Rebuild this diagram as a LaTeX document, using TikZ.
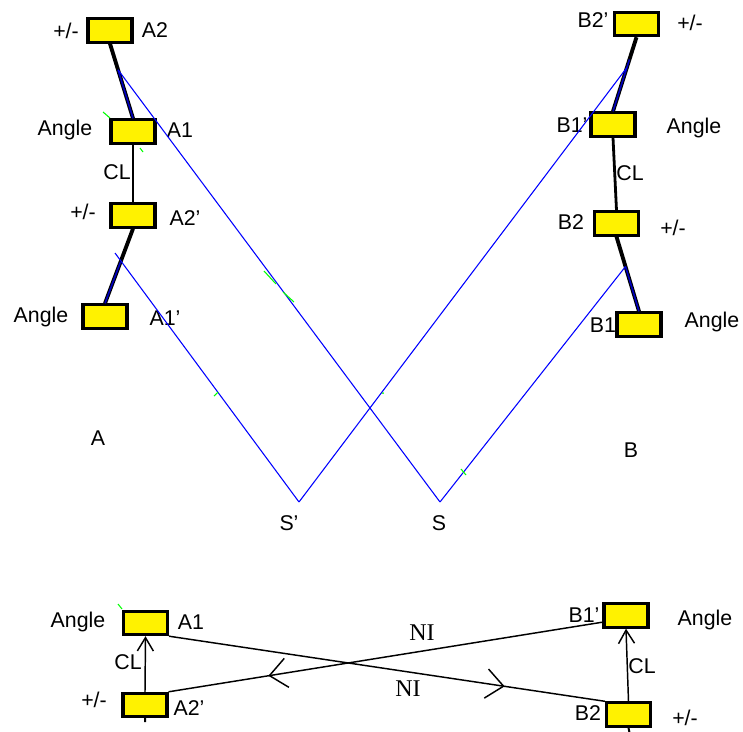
\documentclass[tikz,border=0pt]{standalone}
\usepackage{fontspec}
\setmainfont{Liberation Sans}
\newfontfamily\nifont{Liberation Serif}
\usetikzlibrary{arrows.meta,decorations.markings,calc}
\tikzset{
  box/.style={draw,line width=2.3pt,fill=yellow,minimum width=33pt,minimum height=17.5pt,inner sep=0pt},
  lbl/.style={inner sep=0pt,font=\fontsize{16}{18}\selectfont},
  nilbl/.style={inner sep=0pt,font=\nifont\fontsize{18}{20}\selectfont},
  bar/.style={line width=2.9pt},
  cllink/.style={line width=2.1pt},
  ray/.style={blue,line width=0.8pt},
  rayover/.style={blue!75!black,line width=1.2pt},
  greentick/.style={green,line width=0.8pt},
  clarrow/.style={line width=1.1pt,-{Straight Barb[length=10pt,width=12pt]}},
  niarrow/.style={line width=1.1pt,postaction={decorate},
    decoration={markings,mark=at position 0.77 with {\arrow{Straight Barb[length=13pt,width=22pt]}}}}
}
\begin{document}
\begin{tikzpicture}[x=0.75pt,y=-0.75pt]
\useasboundingbox (0,0) rectangle (743,732);

% side A
\node[box] (A2) at (110,30.5) {};
\node[box] (A1) at (133,131.5) {};
\node[box] (A2p) at (133,215.5) {};
\node[box] (A1p) at (105,316.5) {};
\draw[bar] (A2.south)--(A1.north);
\draw[cllink] (A1.south)--(A2p.north);
\draw[bar] (A2p.south)--(A1p.north);
\node[lbl] (tA2) at (155,30) {A2};
\node[lbl] (tA2pm) at (66,31) {+/-};
\node[lbl] (tA1) at (180,130) {A1};
\node[lbl] (tA1ang) at (65,130) {Angle};
\node[lbl] (tAcl) at (117,172) {CL};
\node[lbl] (tA2p) at (185,218) {A2’};
\node[lbl] (tA2ppm) at (83,212) {+/-};
\node[lbl] (tA1p) at (165,318) {A1’};
\node[lbl] (tA1pang) at (41,317) {Angle};
\node[lbl] (tA) at (98,438) {A};

% side B
\node[box] (B2p) at (636.5,24) {};
\node[box] (B1p) at (613,124.5) {};
\node[box] (B2) at (616.5,223.5) {};
\node[box] (B1) at (639,324.5) {};
\draw[bar] (B2p.south)--(B1p.north);
\draw[cllink] (B1p.south)--(B2.north);
\draw[bar] (B2.south)--(B1.north);
\node[lbl] (tB2p) at (593,20) {B2’};
\node[lbl] (tB2ppm) at (690,23) {+/-};
\node[lbl] (tB1p) at (572,125) {B1’};
\node[lbl] (tB1pang) at (694,128) {Angle};
\node[lbl] (tBcl) at (630,173) {CL};
\node[lbl] (tB2) at (571,222) {B2};
\node[lbl] (tB2pm) at (673,228) {+/-};
\node[lbl] (tB1) at (603,325) {B1};
\node[lbl] (tB1ang) at (712,322) {Angle};
\node[lbl] (tB) at (631,450) {B};

% rays through S and S'
\coordinate (s) at (440,502);
\coordinate (sp) at (299,502);
\coordinate (a2ray) at (115,253);
\node[lbl] (tS) at (439,523) {S};
\node[lbl] (tSp) at (289,523) {S’};
\draw[rayover] ($(A2.south)!0.35!(A1.north)$)--(A1.north);
\draw[rayover] ($(A2p.south)!0.45!(A1p.north)$)--(A1p.north);
\draw[rayover] ($(B2p.south)!0.3!(B1p.north)$)--(B1p.north);
\draw[rayover] ($(B2.south)!0.4!(B1.north)$)--(B1.north);
\draw[ray] ($(A2.south)!0.35!(A1.north)$)--(s);
\draw[ray] (a2ray)--(sp);
\draw[ray] (sp)--($(B2p.south)!0.41!(B1p.north)$);
\draw[ray] (s)--($(B2.south)!0.4!(B1.north)$);
\draw[greentick] (103,112)--(110,118) (140,148)--(143,152);
\draw[greentick] (264,271)--(276,284) (283,292)--(294,302);
\draw[greentick] (214,396)--(218,392) (461,469)--(466,475);
\fill[green] (383,393) circle (1);

% bottom: NI links
\node[box] (bA1) at (145.5,623) {};
\node[box] (bA2p) at (145,705) {};
\node[box] (bB1p) at (626,615.5) {};
\node[box] (bB2) at (628.5,714.5) {};
\draw[clarrow] (bA2p.north)--(bA1.south);
\draw[clarrow] (bB2.north)--(bB1p.south);
\draw[niarrow] (bA1.south east)--(bB2.north west);
\draw[niarrow] ([yshift=-5pt]bB1p.west)--(bA2p.north east);
\draw[line width=1.5pt] (bA2p.south)--++(0,4) (bB2.south)--++(1,5);
\draw[greentick] (118,604)--(122,609);
\node[lbl] (tbA1ang) at (78,622) {Angle};
\node[lbl] (tbA1) at (191,622) {A1};
\node[lbl] (tbAcl) at (128,662) {CL};
\node[lbl] (tbA2ppm) at (94,700) {+/-};
\node[lbl] (tbA2p) at (189,708) {A2’};
\node[lbl] (tbB1p) at (584,615) {B1’};
\node[lbl] (tbB1pang) at (705,620) {Angle};
\node[lbl] (tbBcl) at (642,666) {CL};
\node[lbl] (tbB2) at (588,713) {B2};
\node[lbl] (tbB2pm) at (685,718) {+/-};
\node[nilbl] (tNItop) at (422,633) {NI};
\node[nilbl] (tNIbot) at (408,689) {NI};
\end{tikzpicture}
\end{document}
